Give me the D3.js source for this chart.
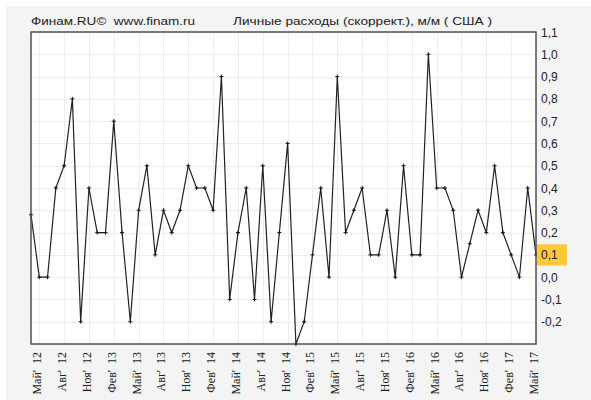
<!DOCTYPE html>
<html lang="ru">
<head>
<meta charset="UTF-8">
<style>
  body { margin:0; background:#fff; }
</style>
<title>Личные расходы</title>
</head>
<body>
<div id="chart"></div>
<script src="https://d3js.org/d3.v7.min.js"></script>
<script>
// monthly values, Apr 2012 .. May 2017
var values = [
  0.28, 0.0, 0.0, 0.4, 0.5, 0.8, -0.2, 0.4, 0.2,
  0.2, 0.7, 0.2, -0.2, 0.3, 0.5, 0.1, 0.3, 0.2, 0.3, 0.5, 0.4,
  0.4, 0.3, 0.9, -0.1, 0.2, 0.4, -0.1, 0.5, -0.2, 0.2, 0.6, -0.3,
  -0.2, 0.1, 0.4, 0.0, 0.9, 0.2, 0.3, 0.4, 0.1, 0.1, 0.3, 0.0,
  0.5, 0.1, 0.1, 1.0, 0.4, 0.4, 0.3, 0.0, 0.15, 0.3, 0.2, 0.5,
  0.2, 0.1, 0.0, 0.4, 0.1
];
var yTicks = [1.1, 1.0, 0.9, 0.8, 0.7, 0.6, 0.5, 0.4, 0.3, 0.2, 0.1, 0.0, -0.1, -0.2];
var xLabels = ["Май'  12","Авг'  12","Ноя'  12","Фев'  13","Май'  13","Авг'  13","Ноя'  13",
  "Фев'  14","Май'  14","Авг'  14","Ноя'  14","Фев'  15","Май'  15","Авг'  15","Ноя'  15",
  "Фев'  16","Май'  16","Авг'  16","Ноя'  16","Фев'  17","Май'  17"];
var xLabelIdx = xLabels.map(function(d, i) { return 1 + i * 3; });

var W = 591, H = 400;
var pL = 31, pR = 536, pT = 32, pB = 344;
var sans = "Arial, 'Liberation Sans', sans-serif";

var svg = d3.select("#chart").append("svg")
  .attr("width", W).attr("height", H);

svg.append("rect").attr("x", 6).attr("y", 6).attr("width", W).attr("height", H)
  .attr("fill", "#f4f4f4");

var x = d3.scaleLinear().domain([0, values.length - 1]).range([pL, pR]);
var y = d3.scaleLinear().domain([-0.3, 1.1]).range([pB, pT]);

svg.append("rect").attr("x", pL).attr("y", pT)
  .attr("width", pR - pL).attr("height", pB - pT)
  .attr("fill", "#fff");

// grid
svg.append("g").selectAll("line").data(yTicks).enter().append("line")
  .attr("x1", pL).attr("x2", pR)
  .attr("y1", function(d) { return Math.round(y(d)) + 0.5; })
  .attr("y2", function(d) { return Math.round(y(d)) + 0.5; })
  .attr("stroke", "#ececec");
svg.append("g").selectAll("line").data(xLabelIdx).enter().append("line")
  .attr("y1", pT).attr("y2", pB)
  .attr("x1", function(d) { return Math.round(x(d)) + 0.5; })
  .attr("x2", function(d) { return Math.round(x(d)) + 0.5; })
  .attr("stroke", "#ececec");

// line
var line = d3.line()
  .x(function(d, i) { return x(i); })
  .y(function(d) { return y(d); });
svg.append("path").datum(values)
  .attr("d", line)
  .attr("fill", "none")
  .attr("stroke", "#222")
  .attr("stroke-width", 1.2);

// markers
svg.append("g").selectAll("path").data(values).enter().append("path")
  .attr("d", function(d, i) {
    var px = x(i), py = y(d);
    return "M" + (px - 2) + "," + py + "H" + (px + 2) + "M" + px + "," + (py - 2) + "V" + (py + 2);
  })
  .attr("stroke", "#111").attr("stroke-width", 1);

// frame
svg.append("rect").attr("x", pL).attr("y", pT)
  .attr("width", pR - pL).attr("height", pB - pT)
  .attr("fill", "none").attr("stroke", "#505050").attr("stroke-width", 1.5);

// last value highlight
var last = values[values.length - 1];
svg.append("rect").attr("x", pR + 1).attr("y", y(last) - 10.5)
  .attr("width", 30).attr("height", 21).attr("fill", "#ffc83a");

// right axis labels
svg.append("g").selectAll("text").data(yTicks).enter().append("text")
  .attr("x", pR + 5)
  .attr("y", function(d) { return y(d) + 4.5; })
  .style("font-family", sans)
  .style("font-size", "12px")
  .attr("fill", "#222")
  .text(function(d) { return d3.format(".1f")(d).replace(".", ",").replace("−", "-"); });

// bottom labels
svg.append("g").selectAll("text").data(xLabels).enter().append("text")
  .attr("transform", function(d, i) {
    return "translate(" + (x(xLabelIdx[i]) + 2) + "," + (pB + 8) + ") rotate(-90)";
  })
  .attr("text-anchor", "end")
  .style("font-family", "'Liberation Serif', 'DejaVu Serif', serif")
  .style("font-size", "12px")
  .style("white-space", "pre")
  .attr("fill", "#222")
  .text(function(d) { return d; });

// header
svg.append("text").attr("x", pL).attr("y", 25)
  .style("font-family", sans).style("font-size", "11px").attr("fill", "#222")
  .style("white-space", "pre")
  .attr("textLength", 164).attr("lengthAdjust", "spacingAndGlyphs")
  .text("Финам.RU©  www.finam.ru");
svg.append("text").attr("x", 233).attr("y", 25)
  .style("font-family", sans).style("font-size", "11px").attr("fill", "#222")
  .attr("textLength", 259).attr("lengthAdjust", "spacingAndGlyphs")
  .text("Личные расходы (скоррект.), м/м ( США )");
</script>
</body>
</html>
